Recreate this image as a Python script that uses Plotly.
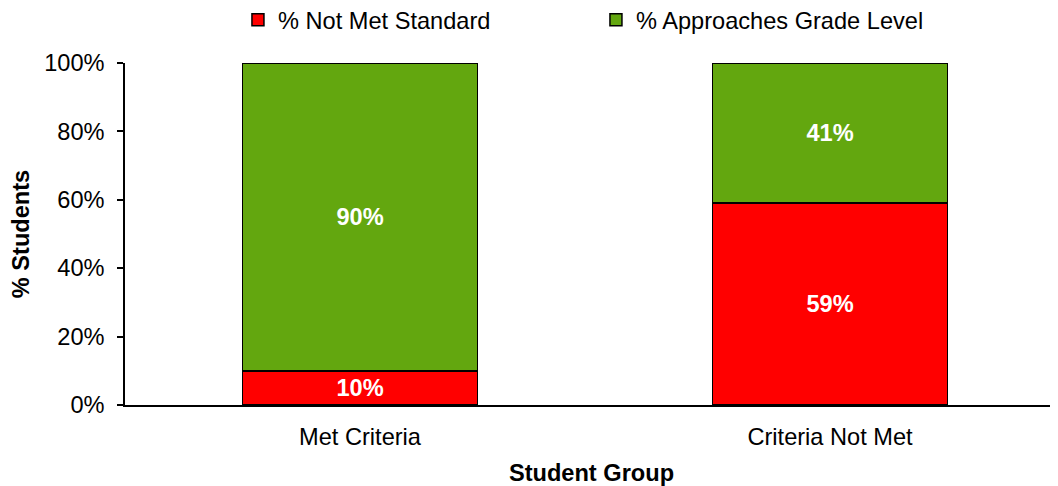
import plotly.graph_objects as go

categories = ["Met Criteria", "Criteria Not Met"]
not_met = [10, 59]
approaches = [90, 41]
series_names = ["% Not Met Standard", "% Approaches Grade Level"]
y_ticks = [0, 20, 40, 60, 80, 100]
y_tick_labels = ["0%", "20%", "40%", "60%", "80%", "100%"]

FONT = "Liberation Sans, Arial, sans-serif"
FS = 23.6

fig = go.Figure()
fig.add_trace(go.Bar(
    x=categories, y=not_met, name=series_names[0],
    marker=dict(color="#FF0000", line=dict(color="black", width=1.5)),
    text=[f"{v}%" for v in not_met], textposition="inside", insidetextanchor="middle",
    textfont=dict(color="white", size=FS, family=FONT, weight="bold"),
    width=0.5,
))
fig.add_trace(go.Bar(
    x=categories, y=approaches, name=series_names[1],
    marker=dict(color="#63A70F", line=dict(color="black", width=1.5)),
    text=[f"{v}%" for v in approaches], textposition="inside", insidetextanchor="middle",
    textfont=dict(color="white", size=FS, family=FONT, weight="bold"),
    width=0.5,
))

fig.update_layout(
    barmode="stack",
    width=1050, height=478,
    margin=dict(l=117, r=0, t=55, b=81, autoexpand=False),
    paper_bgcolor="white", plot_bgcolor="white",
    font=dict(family=FONT, size=FS, color="black"),
    showlegend=True,
    legend=dict(orientation="h", xref="container", x=0.219, xanchor="left",
                yref="container", y=0.975, yanchor="middle",
                font=dict(size=FS), traceorder="normal",
                entrywidth=313, entrywidthmode="pixels"),
    uniformtext=dict(mode="show", minsize=FS),
)
fig.update_xaxes(
    range=[-0.5, 1.485], showline=True, linecolor="black", linewidth=1.5,
    ticks="", tickfont=dict(size=FS), ticklabelstandoff=10, automargin=False,
    title=dict(text="<b>Student Group</b>", font=dict(size=FS), standoff=24),
)
fig.update_yaxes(
    range=[0, 100], tickvals=y_ticks, ticktext=y_tick_labels,
    showline=True, linecolor="black", linewidth=1.5, showgrid=False,
    ticks="outside", ticklen=6, tickwidth=1.5, tickcolor="black",
    tickfont=dict(size=FS), zeroline=False, ticklabelstandoff=8, automargin=False,
    title=dict(text="<b>% Students</b>", font=dict(size=FS), standoff=14),
)

fig.write_html("out.html")
